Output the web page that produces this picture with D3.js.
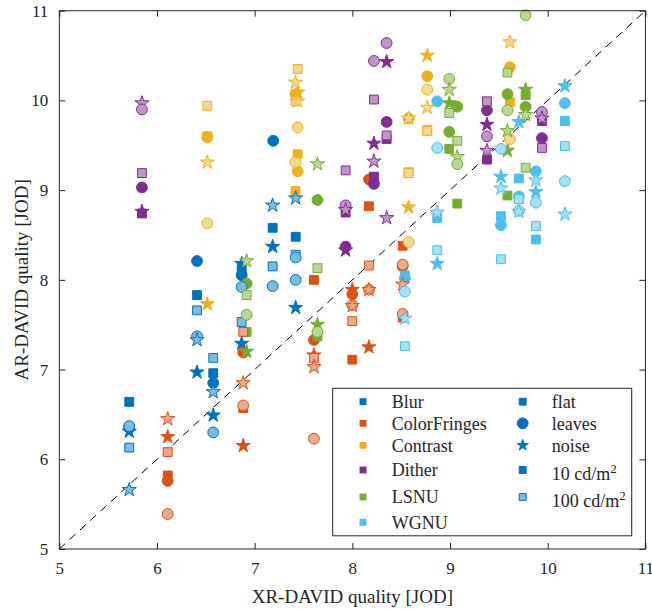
<!DOCTYPE html>
<html>
<head>
<meta charset="utf-8">
<script src="https://cdn.jsdelivr.net/npm/d3@7"></script>
<style>
  body { margin: 0; background: #fff; }
  text { font-family: "Liberation Serif", "DejaVu Serif", serif; fill: #262626; }
</style>
</head>
<body>
<script>
// 画布
const width = 652;
const height = 611;
const margin = {left: 59.3, right: 6.6, top: 10.7, bottom: 62};

// 类别
const distortions = ['Blur', 'ColorFringes', 'Contrast', 'Dither', 'LSNU', 'WGNU'];
const colors = ['#0072BD', '#D95319', '#EDB120', '#7E2F8E', '#77AC30', '#4DBEEE'];
const contents = ['flat', 'leaves', 'noise'];
const luminances = [10, 100];
const ticks = [5, 6, 7, 8, 9, 10, 11];

// 数据: [content, cd/m2, XR-DAVID, AR-DAVID]
const blur = [
  ['flat', 10, 5.716, 6.64], ['leaves', 10, 5.716, 6.36], ['leaves', 100, 5.716, 6.37],
  ['noise', 10, 5.716, 6.31], ['flat', 100, 5.716, 6.13], ['noise', 100, 5.716, 5.66],
  ['leaves', 10, 6.41, 8.21], ['flat', 10, 6.41, 7.83], ['flat', 100, 6.41, 7.66],
  ['leaves', 100, 6.41, 7.37], ['noise', 100, 6.41, 7.33], ['noise', 10, 6.41, 6.97],
  ['flat', 100, 6.576, 7.13], ['flat', 10, 6.576, 6.96], ['leaves', 10, 6.576, 6.85],
  ['noise', 100, 6.576, 6.75], ['noise', 10, 6.576, 6.49], ['leaves', 100, 6.576, 6.30],
  ['noise', 10, 6.867, 8.18], ['flat', 10, 6.867, 8.12], ['leaves', 10, 6.867, 8.05],
  ['leaves', 100, 6.867, 7.92], ['flat', 100, 6.867, 7.53], ['noise', 10, 6.867, 7.29],
  ['leaves', 10, 7.19, 9.55], ['noise', 100, 7.184, 8.83], ['flat', 10, 7.184, 8.58],
  ['noise', 10, 7.184, 8.37], ['flat', 100, 7.184, 8.15], ['leaves', 100, 7.184, 7.93],
  ['noise', 100, 7.42, 8.91], ['flat', 10, 7.42, 8.48], ['flat', 100, 7.42, 8.28],
  ['leaves', 100, 7.42, 8.25], ['leaves', 100, 7.42, 8.00], ['noise', 10, 7.42, 7.69]
];
const colorFringes = [
  ['noise', 100, 6.11, 6.45], ['noise', 10, 6.11, 6.25], ['flat', 100, 6.11, 6.08],
  ['flat', 10, 6.11, 5.82], ['leaves', 10, 6.11, 5.76], ['leaves', 100, 6.11, 5.39],
  ['flat', 100, 6.883, 7.42], ['leaves', 10, 6.883, 7.19], ['noise', 100, 6.883, 6.85],
  ['flat', 10, 6.883, 6.57], ['leaves', 100, 6.883, 6.60], ['noise', 10, 6.883, 6.15],
  ['flat', 10, 7.607, 8.00], ['leaves', 10, 7.607, 7.33], ['noise', 10, 7.607, 7.16],
  ['flat', 100, 7.607, 7.13], ['noise', 100, 7.607, 7.03], ['leaves', 100, 7.607, 6.23],
  ['noise', 10, 7.999, 7.89], ['leaves', 10, 7.999, 7.84], ['leaves', 100, 7.999, 7.72],
  ['noise', 100, 7.999, 7.71], ['flat', 100, 7.999, 7.54], ['flat', 10, 7.999, 7.11],
  ['leaves', 10, 8.17, 9.12], ['flat', 10, 8.17, 8.82], ['flat', 100, 8.17, 8.16],
  ['leaves', 100, 8.17, 7.89], ['noise', 100, 8.17, 7.89], ['noise', 10, 8.17, 7.25],
  ['flat', 10, 8.515, 8.38], ['leaves', 10, 8.515, 8.15], ['leaves', 100, 8.515, 8.17],
  ['noise', 100, 8.515, 7.95], ['flat', 10, 8.515, 7.58], ['leaves', 100, 8.515, 7.62]
];
const contrast = [
  ['flat', 100, 6.515, 9.94], ['flat', 10, 6.515, 9.60], ['leaves', 10, 6.515, 9.59],
  ['noise', 100, 6.515, 9.31], ['leaves', 100, 6.515, 8.63], ['noise', 10, 6.515, 7.73],
  ['flat', 100, 7.44, 10.35], ['noise', 100, 7.418, 10.20], ['leaves', 10, 7.418, 10.07],
  ['noise', 10, 7.44, 10.09], ['flat', 100, 7.418, 9.99], ['noise', 100, 7.44, 9.99],
  ['leaves', 100, 7.44, 9.70], ['flat', 10, 7.44, 9.40], ['leaves', 100, 7.418, 9.31],
  ['leaves', 10, 7.44, 9.21], ['flat', 10, 7.418, 8.99],
  ['leaves', 10, 8.576, 9.80], ['noise', 100, 8.576, 9.80], ['flat', 10, 8.576, 9.20],
  ['flat', 100, 8.576, 9.19], ['noise', 10, 8.576, 8.81], ['leaves', 100, 8.576, 8.42],
  ['noise', 10, 8.767, 10.50], ['leaves', 10, 8.767, 10.27], ['leaves', 100, 8.767, 10.12],
  ['noise', 100, 8.767, 9.92], ['flat', 10, 8.767, 9.67], ['flat', 100, 8.767, 9.66],
  ['flat', 10, 9.613, 9.98], ['noise', 100, 9.613, 10.65], ['leaves', 10, 9.613, 10.37],
  ['leaves', 100, 9.613, 9.57]
];
const dither = [
  ['noise', 100, 5.846, 9.97], ['leaves', 100, 5.846, 9.90], ['flat', 100, 5.846, 9.19],
  ['leaves', 10, 5.846, 9.03], ['flat', 10, 5.846, 8.74], ['noise', 10, 5.846, 8.76],
  ['flat', 100, 7.931, 9.22], ['leaves', 100, 7.931, 8.83], ['flat', 10, 7.931, 8.75],
  ['noise', 100, 7.931, 8.78], ['noise', 10, 7.931, 8.33], ['leaves', 10, 7.931, 8.37],
  ['leaves', 100, 8.221, 10.44], ['flat', 100, 8.221, 10.01], ['noise', 10, 8.221, 9.52],
  ['noise', 100, 8.221, 9.32], ['flat', 10, 8.221, 9.15], ['leaves', 10, 8.221, 9.07],
  ['leaves', 100, 8.351, 10.64], ['noise', 10, 8.351, 10.43], ['leaves', 10, 8.351, 9.76],
  ['flat', 10, 8.351, 9.57], ['flat', 100, 8.351, 9.61], ['noise', 100, 8.351, 8.69],
  ['flat', 100, 9.378, 9.99], ['leaves', 10, 9.378, 9.89], ['noise', 10, 9.378, 9.73],
  ['leaves', 100, 9.378, 9.60], ['noise', 100, 9.378, 9.44], ['flat', 10, 9.378, 9.34],
  ['leaves', 100, 9.941, 9.87], ['flat', 10, 9.941, 9.77], ['noise', 100, 9.941, 9.80],
  ['leaves', 10, 9.941, 9.58], ['flat', 100, 9.941, 9.47]
];
const lsnu = [
  ['noise', 100, 6.918, 8.21], ['leaves', 10, 6.918, 7.96], ['flat', 100, 6.918, 7.83],
  ['leaves', 100, 6.918, 7.61], ['flat', 10, 6.918, 7.42], ['noise', 10, 6.918, 7.20],
  ['noise', 100, 7.643, 9.29], ['leaves', 10, 7.643, 8.89], ['flat', 100, 7.643, 8.13],
  ['noise', 10, 7.643, 7.50], ['flat', 10, 7.643, 7.37], ['leaves', 100, 7.643, 7.42],
  ['leaves', 100, 8.992, 10.24], ['noise', 100, 8.992, 10.12], ['noise', 10, 8.992, 9.97],
  ['flat', 100, 8.992, 9.86], ['leaves', 10, 8.992, 9.65], ['flat', 10, 8.992, 9.46],
  ['leaves', 10, 9.074, 9.93], ['flat', 100, 9.074, 9.55], ['noise', 100, 9.074, 9.37],
  ['leaves', 100, 9.074, 9.29], ['flat', 10, 9.074, 8.85],
  ['flat', 100, 9.588, 10.31], ['leaves', 10, 9.588, 10.07], ['leaves', 100, 9.588, 9.89],
  ['noise', 100, 9.588, 9.66], ['noise', 10, 9.588, 9.44], ['flat', 10, 9.588, 8.94],
  ['leaves', 100, 9.774, 10.95], ['noise', 10, 9.774, 10.12], ['flat', 10, 9.774, 10.06],
  ['leaves', 10, 9.774, 9.93], ['noise', 100, 9.774, 9.84], ['flat', 100, 9.774, 9.25]
];
const wgnu = [
  ['flat', 10, 8.538, 8.05], ['leaves', 10, 8.538, 8.02], ['leaves', 100, 8.538, 7.87],
  ['noise', 100, 8.538, 7.57], ['flat', 100, 8.538, 7.26],
  ['leaves', 10, 8.869, 9.99], ['leaves', 100, 8.869, 9.47], ['flat', 10, 8.869, 8.69],
  ['noise', 100, 8.869, 8.75], ['flat', 100, 8.869, 8.33], ['noise', 10, 8.869, 8.18],
  ['leaves', 100, 9.521, 9.46], ['noise', 10, 9.521, 9.15], ['noise', 100, 9.521, 9.02],
  ['flat', 10, 9.521, 8.71], ['leaves', 10, 9.521, 8.61], ['flat', 100, 9.521, 8.23],
  ['noise', 10, 9.705, 9.76], ['flat', 10, 9.705, 9.13], ['leaves', 10, 9.705, 8.93],
  ['flat', 100, 9.705, 8.90], ['leaves', 100, 9.705, 8.77], ['noise', 100, 9.705, 8.76],
  ['leaves', 10, 9.879, 9.21], ['noise', 100, 9.879, 9.11], ['noise', 10, 9.879, 8.98],
  ['leaves', 100, 9.879, 8.86], ['flat', 100, 9.879, 8.60], ['flat', 10, 9.879, 8.45],
  ['noise', 10, 10.176, 10.16], ['leaves', 10, 10.176, 9.97], ['flat', 10, 10.176, 9.77],
  ['flat', 100, 10.176, 9.49], ['leaves', 100, 10.176, 9.10], ['noise', 100, 10.176, 8.73]
];
const series = [blur, colorFringes, contrast, dither, lsnu, wgnu];

// 比例尺
const xScale = d3.scaleLinear().domain([5, 11]).range([margin.left, width - margin.right]);
const yScale = d3.scaleLinear().domain([5, 11]).range([height - margin.bottom, margin.top]);

const shapes = {flat: d3.symbolSquare, leaves: d3.symbolCircle, noise: d3.symbolStar};
const sizes = {flat: 78, leaves: 92, noise: 62};
const light = c => d3.interpolateRgb(c, '#fff')(0.5);

const svg = d3.select('body').append('svg')
    .attr('width', width)
    .attr('height', height);

// 对角线
svg.append('line')
    .attr('x1', xScale(5)).attr('y1', yScale(5))
    .attr('x2', xScale(11)).attr('y2', yScale(11))
    .attr('stroke', '#000')
    .attr('stroke-width', 1)
    .attr('stroke-dasharray', '8,6');

// 散点
const points = [];
series.forEach((s, i) => s.forEach(d => points.push({k: i, content: d[0], lum: d[1], x: d[2], y: d[3]})));
points.sort((a, b) => a.lum - b.lum);

svg.append('g').selectAll('path')
    .data(points)
    .enter()
    .append('path')
    .attr('transform', d => 'translate(' + xScale(d.x) + ',' + yScale(d.y) + ')')
    .attr('d', d => d3.symbol(shapes[d.content], sizes[d.content])())
    .attr('fill', d => d.lum === 10 ? colors[d.k] : light(colors[d.k]))
    .attr('stroke', d => colors[d.k])
    .attr('stroke-width', 1);

// 坐标轴 (MATLAB box)
const axisColor = '#262626';
const frame = svg.append('g');
frame.append('rect')
    .attr('x', xScale(5)).attr('y', yScale(11))
    .attr('width', xScale(11) - xScale(5))
    .attr('height', yScale(5) - yScale(11))
    .attr('fill', 'none')
    .attr('stroke', axisColor);

const xAxis = d3.axisBottom(xScale).tickValues(ticks).tickSize(-6).tickPadding(13).tickFormat(d3.format('d'));
const yAxis = d3.axisLeft(yScale).tickValues(ticks).tickSize(-6).tickPadding(11).tickFormat(d3.format('d'));
const xTop = d3.axisTop(xScale).tickValues(ticks).tickSize(-6).tickFormat('');
const yRight = d3.axisRight(yScale).tickValues(ticks).tickSize(-6).tickFormat('');

[
  [xAxis, 'translate(0,' + yScale(5) + ')'],
  [yAxis, 'translate(' + xScale(5) + ',0)'],
  [xTop, 'translate(0,' + yScale(11) + ')'],
  [yRight, 'translate(' + xScale(11) + ',0)']
].forEach(([ax, tr]) => {
  const g = frame.append('g').attr('transform', tr).call(ax);
  g.select('.domain').remove();
  g.selectAll('line').attr('stroke', axisColor);
  g.selectAll('text').style('font-size', '17px').attr('fill', axisColor)
      .style('font-family', '"Liberation Serif", serif');
});

// 轴标题
svg.append('text')
    .attr('x', (xScale(5) + xScale(11)) / 2)
    .attr('y', 603)
    .attr('text-anchor', 'middle')
    .style('font-size', '19px')
    .text('XR-DAVID quality [JOD]');

svg.append('text')
    .attr('transform', 'translate(28,' + (yScale(5) + yScale(11)) / 2 + ') rotate(-90)')
    .attr('text-anchor', 'middle')
    .style('font-size', '19px')
    .text('AR-DAVID quality [JOD]');

// 图例
const legend = svg.append('g');
legend.append('rect')
    .attr('x', 332.7).attr('y', 388.3)
    .attr('width', 299).attr('height', 147.5)
    .attr('fill', '#fff')
    .attr('stroke', axisColor);

const rowsL = [401.7, 423.3, 445.3, 470, 497, 522.3];
distortions.forEach((name, i) => {
  legend.append('path')
      .attr('transform', 'translate(363,' + rowsL[i] + ')')
      .attr('d', d3.symbol(d3.symbolSquare, 48)())
      .attr('fill', colors[i]);
  legend.append('text')
      .attr('x', 391.7).attr('y', rowsL[i])
      .attr('dy', '0.35em')
      .style('font-size', '18px')
      .text(name);
});

const rightItems = [
  {label: 'flat', shape: 'flat', lum: 10, size: 48},
  {label: 'leaves', shape: 'leaves', lum: 10, size: 92},
  {label: 'noise', shape: 'noise', lum: 10, size: 40},
  {label: '10 cd/m', shape: 'flat', lum: 10, size: 48},
  {label: '100 cd/m', shape: 'flat', lum: 100, size: 48}
];
rightItems.forEach((it, i) => {
  const y = rowsL[i];
  legend.append('path')
      .attr('transform', 'translate(522.7,' + y + ')')
      .attr('d', d3.symbol(shapes[it.shape], it.size)())
      .attr('fill', it.lum === 10 ? colors[0] : light(colors[0]))
      .attr('stroke', colors[0])
      .attr('stroke-width', 1);
  const t = legend.append('text')
      .attr('x', 551.7).attr('y', y)
      .attr('dy', i >= 3 ? '0.55em' : '0.35em')
      .style('font-size', '18px')
      .text(it.label);
  if (i >= 3) {
    t.append('tspan').attr('dy', '-0.55em').style('font-size', '13px').text('2');
  }
});
</script>
</body>
</html>
